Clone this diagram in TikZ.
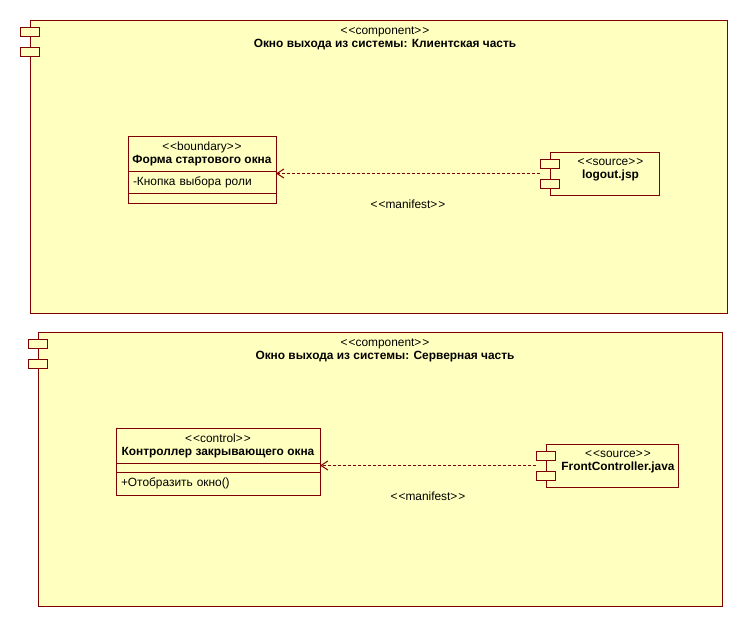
\documentclass[tikz,border=0pt]{standalone}
\usepackage{fontspec}
\setmainfont{Liberation Sans}
\usetikzlibrary{positioning}
\usetikzlibrary{arrows.meta}
\usetikzlibrary{calc}
\definecolor{umlfill}{RGB}{255,255,192}
\definecolor{umlline}{RGB}{128,0,0}
\newcommand{\stereo}[1]{<\kern1pt<#1>\kern1pt>}

\begin{document}
\begin{tikzpicture}[x=1pt,y=-1pt,font=\fontsize{11.9}{13}\selectfont]
\tikzset{component/.style={rectangle, draw=umlline, fill=umlfill, line width=1pt, inner sep=0pt, outer sep=0pt}}
\tikzset{tab/.style={rectangle, draw=umlline, fill=umlfill, line width=1pt, minimum width=19pt, minimum height=9pt, inner sep=0pt}}
\tikzset{classbox/.style={rectangle, draw=umlline, fill=umlfill, line width=1pt, inner sep=0pt, outer sep=0pt, align=center}}
\tikzset{compart/.style={rectangle, draw=umlline, fill=umlfill, line width=1pt, inner xsep=5pt, inner ysep=0pt, outer sep=0pt, align=left}}
\tikzset{txt/.style={align=center, inner sep=0pt}}
\tikzset{manifest/.style={draw=umlline, line width=1pt, dash pattern=on 3pt off 2pt, -{Straight Barb[length=7pt,width=9pt]}}}
\useasboundingbox (0,0) rectangle (747,627);
% client side
\node[component, minimum width=697pt, minimum height=293pt] (client) at (378.5,166.5) {};
\node[tab] (clienttab1) at ($(client.north west)+(0,11.5)$) {};
\node[tab] (clienttab2) at ($(client.north west)+(0,31.5)$) {};
\node[txt] (clienthead) at ($(client.north)+(6.5,18.5)$) {\stereo{component}\\\textbf{Окно выхода из системы: Клиентская часть}};
\node[classbox, minimum width=148pt, minimum height=35pt] (form) at (202,153.5) {\stereo{boundary}\\\textbf{Форма стартового окна}};
\node[compart, text width=138pt, minimum height=22pt, below=0pt of form] (formattr) {-Кнопка выбора роли};
\node[compart, text width=138pt, minimum height=10pt, below=0pt of formattr] (formops) {};
\node[component, minimum width=109pt, minimum height=43pt] (jsp) at (604.5,173.5) {};
\node[tab] (jsptab1) at ($(jsp.west)+(0,-10)$) {};
\node[tab] (jsptab2) at ($(jsp.west)+(0,10)$) {};
\node[txt] (jsptext) at ($(jsp.center)+(6,-3.5)$) {\stereo{source}\\\textbf{logout.jsp}};
\coordinate (jspout) at ($(jsp.west)+(-10,0)$);
\draw[manifest] (jspout) -- node[txt, midway, yshift=-31pt] (clientlbl) {\stereo{manifest}} (jspout -| form.east);
% server side
\node[component, minimum width=684pt, minimum height=274pt] (server) at (380,469) {};
\node[tab] (servertab1) at ($(server.north west)+(0,11.5)$) {};
\node[tab] (servertab2) at ($(server.north west)+(0,31.5)$) {};
\node[txt] (serverhead) at ($(server.north)+(5,18.5)$) {\stereo{component}\\\textbf{Окно выхода из системы: Серверная часть}};
\node[classbox, minimum width=204pt, minimum height=35pt] (ctrl) at (218,445.5) {\stereo{control}\\\textbf{Контроллер закрывающего окна}};
\node[compart, text width=194pt, minimum height=9pt, below=0pt of ctrl] (ctrlattr) {};
\node[compart, text width=194pt, minimum height=23pt, below=0pt of ctrlattr] (ctrlops) {+Отобразить окно()};
\node[component, minimum width=132pt, minimum height=43pt] (java) at (612,465.5) {};
\node[tab] (javatab1) at ($(java.west)+(0,-10)$) {};
\node[tab] (javatab2) at ($(java.west)+(0,10)$) {};
\node[txt] (javatext) at ($(java.center)+(6,-3.5)$) {\stereo{source}\\\textbf{FrontController.java}};
\coordinate (javaout) at ($(java.west)+(-10,0)$);
\draw[manifest] (javaout) -- node[txt, midway, yshift=-31pt] (serverlbl) {\stereo{manifest}} (javaout -| ctrl.east);
\end{tikzpicture}
\end{document}
